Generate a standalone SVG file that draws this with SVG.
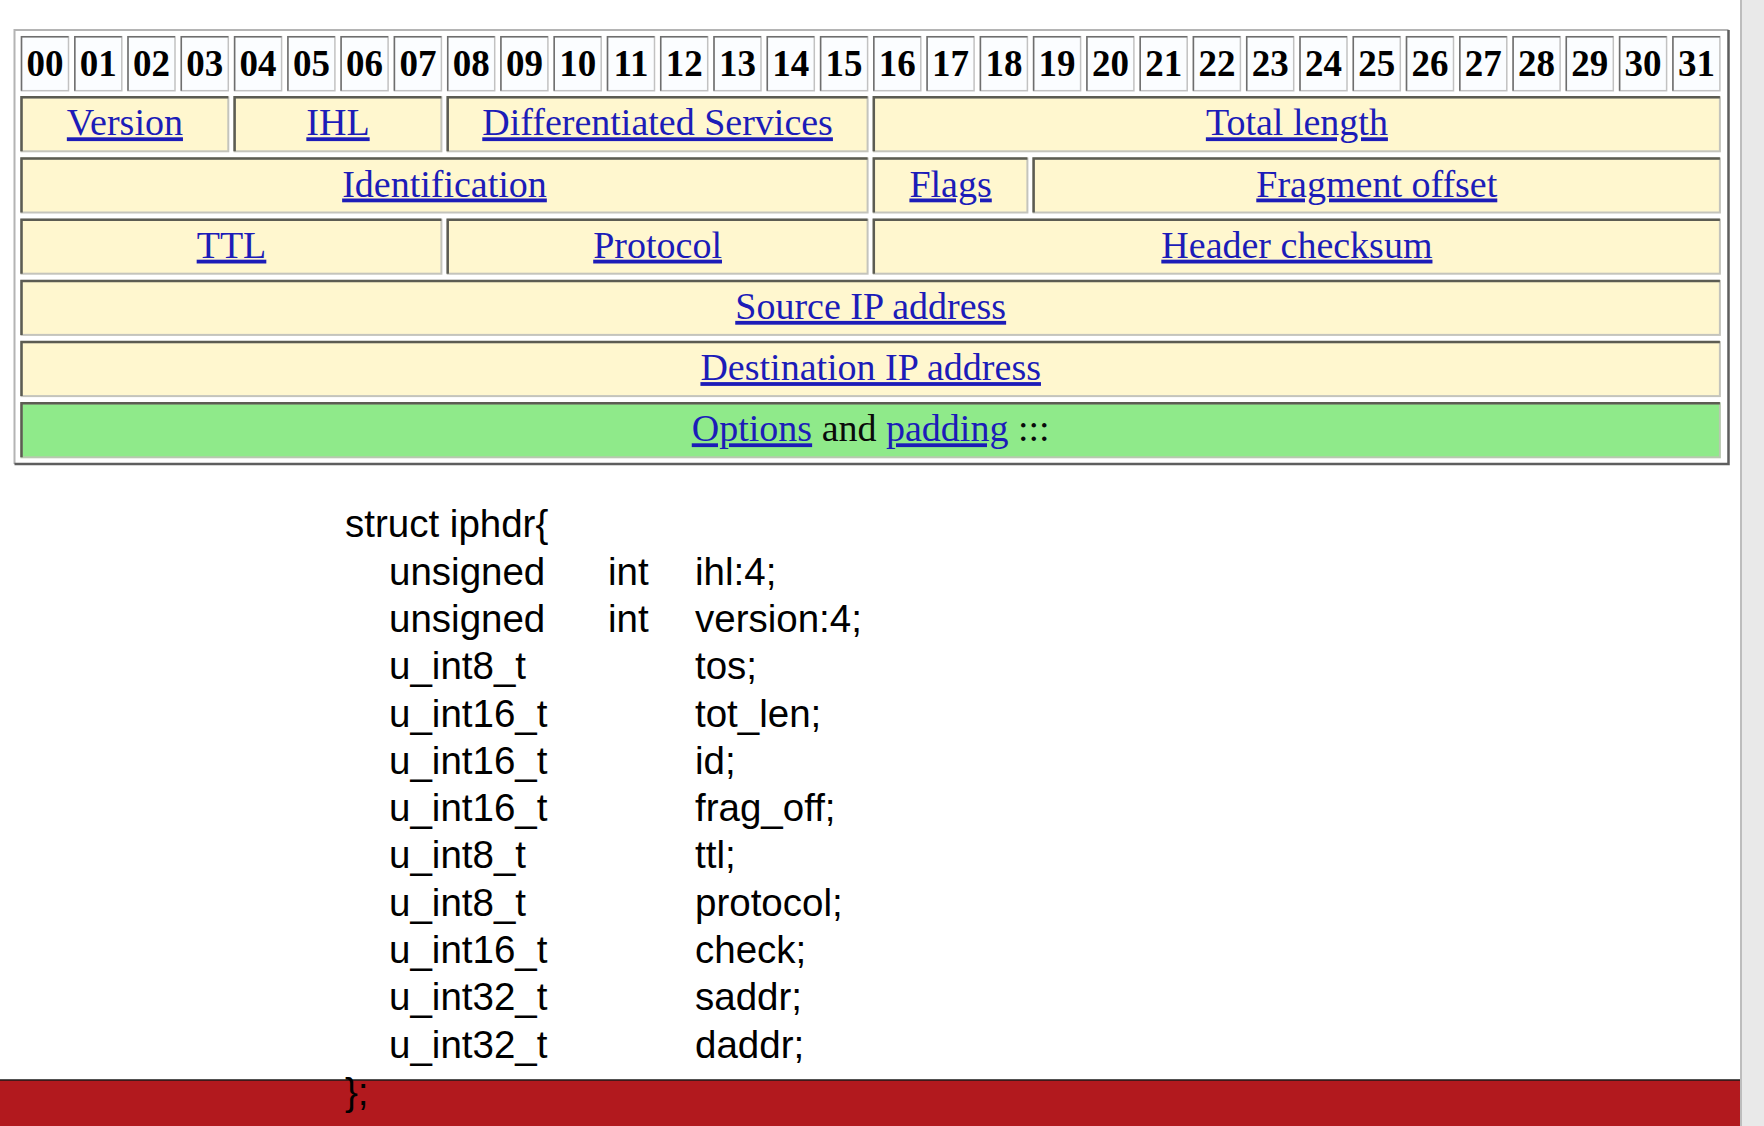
<svg xmlns="http://www.w3.org/2000/svg" width="1764" height="1126" viewBox="0 0 1764 1126">
<style>
.bit rect{fill:#fbfdff;stroke:#c2c2c2;stroke-width:1.5}
.bit path{fill:none;stroke:#6e6e6e;stroke-width:1.5}
.bit text{font-family:"Liberation Serif","Times New Roman",serif;font-weight:bold;font-size:37px;fill:#000;text-anchor:middle}
.fld rect{fill:#fff7cf;stroke:#c4c4bc;stroke-width:2}
.fld path{fill:none;stroke:#5c5c52;stroke-width:2.5}
.opt rect{fill:#8fea8a;stroke:#b8c8b0;stroke-width:2}
.opt path{fill:none;stroke:#5c5c52;stroke-width:2.5}
.lbl{font-family:"Liberation Serif","Times New Roman",serif;font-size:38px;text-anchor:middle}
.lnk{fill:#1c1cb8;text-decoration:underline}
.blk{fill:#0a0a0a}
.code{font-family:"Liberation Sans",Arial,Helvetica,sans-serif;font-size:38.5px;fill:#000}
</style>
<rect x="0" y="0" width="1764" height="1126" fill="#ffffff"/>
<rect x="1740" y="0" width="24" height="1126" fill="#e9e9e9"/>
<line x1="1741" y1="0" x2="1741" y2="1126" stroke="#bdbdbd" stroke-width="2"/>

<g id="table-frame">
<rect x="14.5" y="30" width="1714" height="434" fill="#ffffff"/>
<path d="M14.5 464 V30 H1728.5" fill="none" stroke="#b4b4b4" stroke-width="2"/>
<path d="M1728.5 30 V464 H14.5" fill="none" stroke="#5e5e5e" stroke-width="2.5"/>
</g>

<g id="bits">
<g id="bit00" class="bit"><rect x="21.5" y="36.7" width="47" height="54"/><path d="M21.5 90.7V36.7H68.5"/><text x="45" y="76">00</text></g>
<g id="bit01" class="bit"><rect x="74.8" y="36.7" width="47" height="54"/><path d="M74.8 90.7V36.7H121.8"/><text x="98.3" y="76">01</text></g>
<g id="bit02" class="bit"><rect x="128" y="36.7" width="47" height="54"/><path d="M128 90.7V36.7H175"/><text x="151.5" y="76">02</text></g>
<g id="bit03" class="bit"><rect x="181.3" y="36.7" width="47" height="54"/><path d="M181.3 90.7V36.7H228.3"/><text x="204.8" y="76">03</text></g>
<g id="bit04" class="bit"><rect x="234.6" y="36.7" width="47" height="54"/><path d="M234.6 90.7V36.7H281.6"/><text x="258.1" y="76">04</text></g>
<g id="bit05" class="bit"><rect x="287.9" y="36.7" width="47" height="54"/><path d="M287.9 90.7V36.7H334.9"/><text x="311.4" y="76">05</text></g>
<g id="bit06" class="bit"><rect x="341.1" y="36.7" width="47" height="54"/><path d="M341.1 90.7V36.7H388.1"/><text x="364.6" y="76">06</text></g>
<g id="bit07" class="bit"><rect x="394.4" y="36.7" width="47" height="54"/><path d="M394.4 90.7V36.7H441.4"/><text x="417.9" y="76">07</text></g>
<g id="bit08" class="bit"><rect x="447.7" y="36.7" width="47" height="54"/><path d="M447.7 90.7V36.7H494.7"/><text x="471.2" y="76">08</text></g>
<g id="bit09" class="bit"><rect x="500.9" y="36.7" width="47" height="54"/><path d="M500.9 90.7V36.7H547.9"/><text x="524.4" y="76">09</text></g>
<g id="bit10" class="bit"><rect x="554.2" y="36.7" width="47" height="54"/><path d="M554.2 90.7V36.7H601.2"/><text x="577.7" y="76">10</text></g>
<g id="bit11" class="bit"><rect x="607.5" y="36.7" width="47" height="54"/><path d="M607.5 90.7V36.7H654.5"/><text x="631" y="76">11</text></g>
<g id="bit12" class="bit"><rect x="660.7" y="36.7" width="47" height="54"/><path d="M660.7 90.7V36.7H707.7"/><text x="684.2" y="76">12</text></g>
<g id="bit13" class="bit"><rect x="714" y="36.7" width="47" height="54"/><path d="M714 90.7V36.7H761"/><text x="737.5" y="76">13</text></g>
<g id="bit14" class="bit"><rect x="767.3" y="36.7" width="47" height="54"/><path d="M767.3 90.7V36.7H814.3"/><text x="790.8" y="76">14</text></g>
<g id="bit15" class="bit"><rect x="820.6" y="36.7" width="47" height="54"/><path d="M820.6 90.7V36.7H867.6"/><text x="844.1" y="76">15</text></g>
<g id="bit16" class="bit"><rect x="873.8" y="36.7" width="47" height="54"/><path d="M873.8 90.7V36.7H920.8"/><text x="897.3" y="76">16</text></g>
<g id="bit17" class="bit"><rect x="927.1" y="36.7" width="47" height="54"/><path d="M927.1 90.7V36.7H974.1"/><text x="950.6" y="76">17</text></g>
<g id="bit18" class="bit"><rect x="980.4" y="36.7" width="47" height="54"/><path d="M980.4 90.7V36.7H1027.4"/><text x="1003.9" y="76">18</text></g>
<g id="bit19" class="bit"><rect x="1033.6" y="36.7" width="47" height="54"/><path d="M1033.6 90.7V36.7H1080.6"/><text x="1057.1" y="76">19</text></g>
<g id="bit20" class="bit"><rect x="1086.9" y="36.7" width="47" height="54"/><path d="M1086.9 90.7V36.7H1133.9"/><text x="1110.4" y="76">20</text></g>
<g id="bit21" class="bit"><rect x="1140.2" y="36.7" width="47" height="54"/><path d="M1140.2 90.7V36.7H1187.2"/><text x="1163.7" y="76">21</text></g>
<g id="bit22" class="bit"><rect x="1193.4" y="36.7" width="47" height="54"/><path d="M1193.4 90.7V36.7H1240.4"/><text x="1216.9" y="76">22</text></g>
<g id="bit23" class="bit"><rect x="1246.7" y="36.7" width="47" height="54"/><path d="M1246.7 90.7V36.7H1293.7"/><text x="1270.2" y="76">23</text></g>
<g id="bit24" class="bit"><rect x="1300" y="36.7" width="47" height="54"/><path d="M1300 90.7V36.7H1347"/><text x="1323.5" y="76">24</text></g>
<g id="bit25" class="bit"><rect x="1353.3" y="36.7" width="47" height="54"/><path d="M1353.3 90.7V36.7H1400.3"/><text x="1376.8" y="76">25</text></g>
<g id="bit26" class="bit"><rect x="1406.5" y="36.7" width="47" height="54"/><path d="M1406.5 90.7V36.7H1453.5"/><text x="1430" y="76">26</text></g>
<g id="bit27" class="bit"><rect x="1459.8" y="36.7" width="47" height="54"/><path d="M1459.8 90.7V36.7H1506.8"/><text x="1483.3" y="76">27</text></g>
<g id="bit28" class="bit"><rect x="1513.1" y="36.7" width="47" height="54"/><path d="M1513.1 90.7V36.7H1560.1"/><text x="1536.6" y="76">28</text></g>
<g id="bit29" class="bit"><rect x="1566.3" y="36.7" width="47" height="54"/><path d="M1566.3 90.7V36.7H1613.3"/><text x="1589.8" y="76">29</text></g>
<g id="bit30" class="bit"><rect x="1619.6" y="36.7" width="47" height="54"/><path d="M1619.6 90.7V36.7H1666.6"/><text x="1643.1" y="76">30</text></g>
<g id="bit31" class="bit"><rect x="1672.9" y="36.7" width="47" height="54"/><path d="M1672.9 90.7V36.7H1719.9"/><text x="1696.4" y="76">31</text></g>
</g>

<g id="version" class="fld"><rect x="21.5" y="97.3" width="206.8" height="54"/><path d="M21.5 151.3V97.3H228.3"/><text class="lbl lnk" x="124.9" y="135.3">Version</text></g>
<g id="ihl" class="fld"><rect x="234.6" y="97.3" width="206.8" height="54"/><path d="M234.6 151.3V97.3H441.4"/><text class="lbl lnk" x="338" y="135.3">IHL</text></g>
<g id="dscp" class="fld"><rect x="447.7" y="97.3" width="419.9" height="54"/><path d="M447.7 151.3V97.3H867.6"/><text class="lbl lnk" x="657.6" y="135.3">Differentiated Services</text></g>
<g id="total-length" class="fld"><rect x="873.8" y="97.3" width="846.1" height="54"/><path d="M873.8 151.3V97.3H1719.9"/><text class="lbl lnk" x="1296.9" y="135.3">Total length</text></g>

<g id="identification" class="fld"><rect x="21.5" y="158.5" width="846.1" height="54"/><path d="M21.5 212.5V158.5H867.6"/><text class="lbl lnk" x="444.5" y="196.5">Identification</text></g>
<g id="flags" class="fld"><rect x="873.8" y="158.5" width="153.6" height="54"/><path d="M873.8 212.5V158.5H1027.4"/><text class="lbl lnk" x="950.6" y="196.5">Flags</text></g>
<g id="fragment-offset" class="fld"><rect x="1033.6" y="158.5" width="686.3" height="54"/><path d="M1033.6 212.5V158.5H1719.9"/><text class="lbl lnk" x="1376.8" y="196.5">Fragment offset</text></g>

<g id="ttl" class="fld"><rect x="21.5" y="219.7" width="419.9" height="54"/><path d="M21.5 273.7V219.7H441.4"/><text class="lbl lnk" x="231.5" y="257.7">TTL</text></g>
<g id="protocol" class="fld"><rect x="447.7" y="219.7" width="419.9" height="54"/><path d="M447.7 273.7V219.7H867.6"/><text class="lbl lnk" x="657.6" y="257.7">Protocol</text></g>
<g id="header-checksum" class="fld"><rect x="873.8" y="219.7" width="846.1" height="54"/><path d="M873.8 273.7V219.7H1719.9"/><text class="lbl lnk" x="1296.9" y="257.7">Header checksum</text></g>

<g id="source-ip" class="fld"><rect x="21.5" y="280.9" width="1698.4" height="54"/><path d="M21.5 334.9V280.9H1719.9"/><text class="lbl lnk" x="870.7" y="318.9">Source IP address</text></g>
<g id="destination-ip" class="fld"><rect x="21.5" y="342.1" width="1698.4" height="54"/><path d="M21.5 396.1V342.1H1719.9"/><text class="lbl lnk" x="870.7" y="380.1">Destination IP address</text></g>
<g id="options" class="opt"><rect x="21.5" y="403.3" width="1698.4" height="54"/><path d="M21.5 457.3V403.3H1719.9"/><text class="lbl" x="870.7" y="441.3"><tspan class="lnk">Options</tspan><tspan class="blk"> and </tspan><tspan class="lnk">padding</tspan><tspan class="blk"> :::</tspan></text></g>

<g id="connectors"></g>

<g id="footer-bar">
<rect x="0" y="1080" width="1740" height="46" fill="#b2191e"/>
<line x1="0" y1="1080" x2="1740" y2="1080" stroke="#1a1a1a" stroke-width="1.5"/>
</g>

<g id="struct-code" class="code">
<text x="345" y="537.3">struct iphdr{</text>
<text x="389" y="584.6">unsigned</text><text x="608" y="584.6">int</text><text x="695" y="584.6">ihl:4;</text>
<text x="389" y="631.9">unsigned</text><text x="608" y="631.9">int</text><text x="695" y="631.9">version:4;</text>
<text x="389" y="679.2">u_int8_t</text><text x="695" y="679.2">tos;</text>
<text x="389" y="726.5">u_int16_t</text><text x="695" y="726.5">tot_len;</text>
<text x="389" y="773.8">u_int16_t</text><text x="695" y="773.8">id;</text>
<text x="389" y="821.1">u_int16_t</text><text x="695" y="821.1">frag_off;</text>
<text x="389" y="868.4">u_int8_t</text><text x="695" y="868.4">ttl;</text>
<text x="389" y="915.7">u_int8_t</text><text x="695" y="915.7">protocol;</text>
<text x="389" y="963">u_int16_t</text><text x="695" y="963">check;</text>
<text x="389" y="1010.3">u_int32_t</text><text x="695" y="1010.3">saddr;</text>
<text x="389" y="1057.6">u_int32_t</text><text x="695" y="1057.6">daddr;</text>
<text x="345" y="1104.9">};</text>
</g>
</svg>
